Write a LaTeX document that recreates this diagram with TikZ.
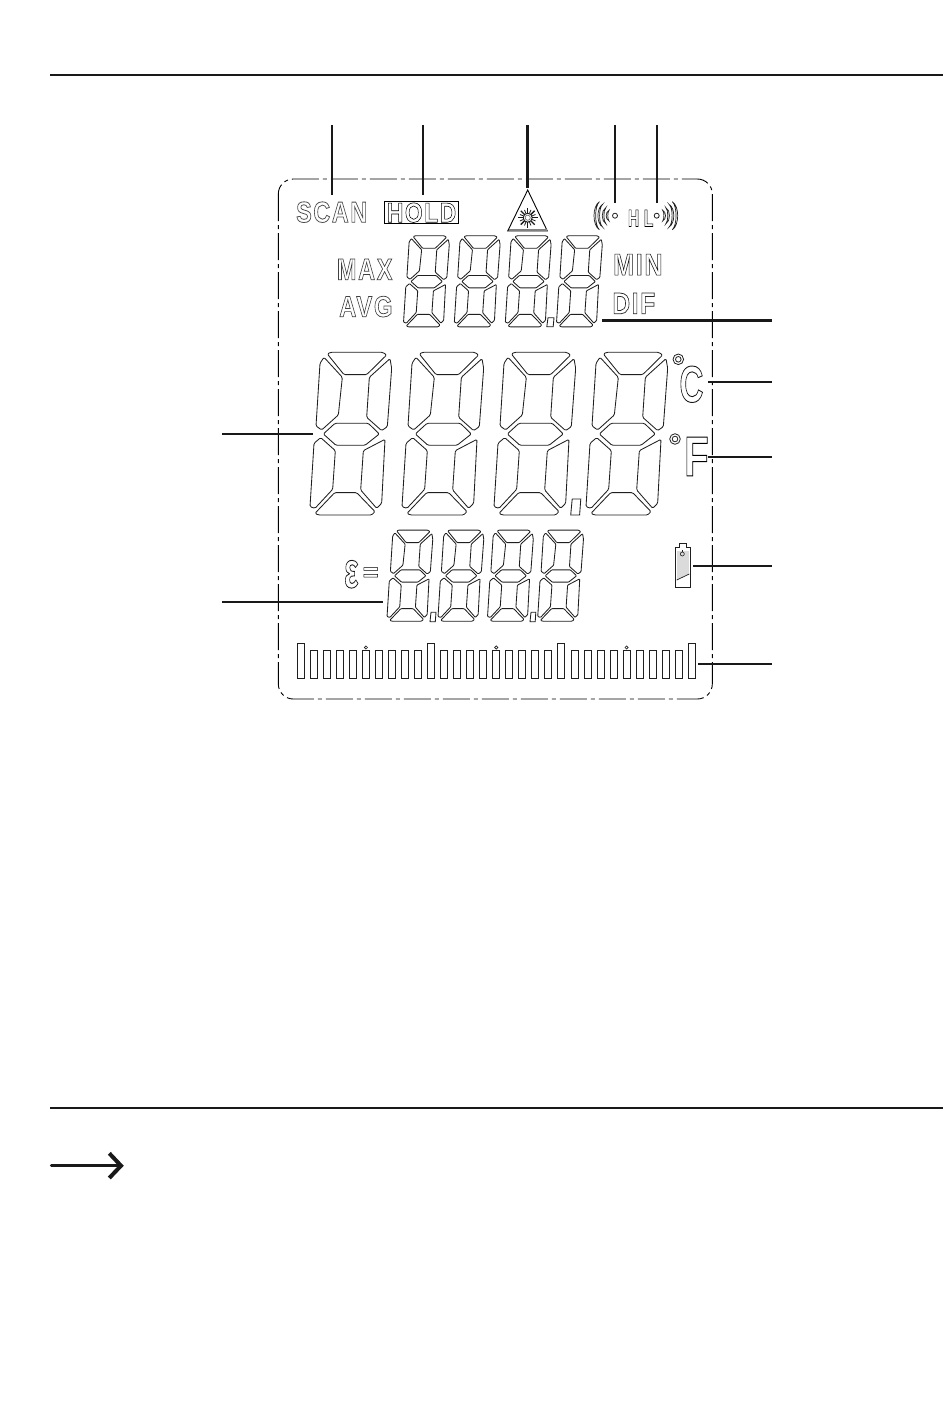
\documentclass[tikz,border=0pt]{standalone}
\usepackage{fontspec}
\usepackage{graphicx}
\setmainfont{Liberation Sans}
\newfontfamily\lblfont[LetterSpace=7]{Liberation Sans}
\newfontfamily\hlfont[LetterSpace=30]{Liberation Sans}
\newfontfamily\greekfont{Liberation Sans}
\definecolor{seg}{gray}{0.12}
\tikzset{
  leader/.style={line width=2.4pt,black!90},
  rule/.style={line width=2.9pt,black!90},
  segline/.style={line width=0.85pt,seg,line join=round},
  lcd/.style={line width=0.85pt,seg},
  lbl/.style={inner sep=0pt,anchor=south west},
}
% name, x-left, y-bottom, width, height, gray stroke, stroke width, content
\newcommand\lab[8]{%
  \node[lbl] (#1) at (#2,#3) {\resizebox{#4pt}{#5pt}{\color[gray]{#6}\special{pdf:code 1 Tr #7 w}\fontsize{20}{20}\selectfont #8\special{pdf:code 0 Tr 1 w}}};}
\newcommand\segdigit[3]{%
  \begin{scope}[shift={(#1,#2)},scale=#3/3,shift={(-153,-283)}]
    \draw[segline,rounded corners=#3*1.3pt]
      (82,42)--(92,37)--(248,37)--(260,45)--(200,104)--(132,104)--cycle
      (72,52)--(127,112)--(115,225)--(65,270)--(48,258)--(60,70)--cycle
      (270,56)--(275,85)--(262,260)--(245,272)--(200,232)--(208,112)--cycle
      (70,282)--(105,250)--(205,250)--(238,282)--(195,316)--(108,316)--cycle
      (62,293)--(106,332)--(98,448)--(45,505)--(30,500)--(42,310)--cycle
      (255,298)--(245,490)--(230,505)--(182,450)--(190,332)--cycle
      (45,520)--(104,458)--(170,458)--(225,515)--(215,525)--(55,525)--cycle;
  \end{scope}}
\newcommand\spk[2]{% centre x, direction
  \foreach \r in {8,12.2,16.8,21}{
    \draw[line width=0.7pt,seg,fill=white]
      ({#1+#2*\r*cos(42)},{215.7-\r*sin(42)}) .. controls ({#1+#2*(\r+1.8)},{215.7-\r*0.45}) and ({#1+#2*(\r+1.8)},{215.7+\r*0.45}) .. ({#1+#2*\r*cos(42)},{215.7+\r*sin(42)})
      .. controls ({#1+#2*(\r-0.4)},{215.7+\r*0.45}) and ({#1+#2*(\r-0.4)},{215.7-\r*0.45}) .. cycle;
  }
  \draw[line width=0.8pt,seg] (#1,215.7) circle (2.5);}
\begin{document}
\begin{tikzpicture}[x=1pt,y=-1pt]
\useasboundingbox (0,0) rectangle (950,1403);
\fill[white] (0,0) rectangle (950,1403);

% rules and arrow
\coordinate (ruleTopL) at (50,75); \coordinate (ruleTopR) at (943,75);
\coordinate (ruleBotL) at (50,1108); \coordinate (ruleBotR) at (943,1108);
\draw[rule] (ruleTopL)--(ruleTopR);
\draw[rule] (ruleBotL)--(ruleBotR);
\coordinate (arrL) at (51.5,1165.7); \coordinate (arrT) at (121,1165.7);
\draw[line width=3.3pt,black!90,line cap=round] (arrL)--(arrT);
\draw[line width=4pt,black!90,line join=miter] (109.3,1153.3)--(arrT)--(109.3,1178);

% frame
\draw[line width=0.9pt,black,rounded corners=15pt,dash pattern=on 27pt off 4pt on 4pt off 4pt]
  (278.3,179) rectangle (712.3,699);

% digits
\foreach \x in {351,443,535,627} {\segdigit{\x}{434.3}{1}}
\foreach \x in {426.5,477.3,528.3,579.5} {\segdigit{\x}{281.7}{0.56}}
\foreach \x in {410,461,510.5,560.7} {\segdigit{\x}{576}{0.56}}
% decimal points
\draw[lcd] (572.2,499)--(580.8,499)--(579.6,515)--(570.7,515)--cycle;
\draw[lcd] (548,317.7)--(554,317.7)--(553.2,326.7)--(546.8,326.7)--cycle;
\draw[lcd] (431,612.3)--(436,612.3)--(435.3,621.7)--(430,621.7)--cycle;
\draw[lcd] (531,612.3)--(535.8,612.3)--(535.2,621.7)--(530,621.7)--cycle;

% labels
\lab{scan}{296}{222.7}{71}{20.4}{0.3}{0.55}{\lblfont\bfseries SCAN}
\lab{hold}{386.7}{222.7}{69.3}{19.4}{0}{0.42}{\lblfont\bfseries HOLD}
\node[lbl,draw=black,line width=0.9pt,minimum width=73.4pt,minimum height=22.6pt] (holdbox) at (384.3,224.3) {};
\lab{max}{336.7}{280}{55.6}{20.7}{0.25}{0.5}{\lblfont\bfseries MAX}
\lab{avg}{339}{317.3}{53.3}{20.6}{0.25}{0.5}{\lblfont\bfseries AVG}
\lab{min}{613}{275.3}{49.3}{21}{0.1}{0.45}{\lblfont\bfseries MIN}
\lab{dif}{612.3}{314}{42.7}{20.7}{0.15}{0.5}{\lblfont\bfseries DIF}
\lab{hl}{627.7}{226.7}{25.5}{16.7}{0}{0.45}{\hlfont\bfseries HL}
\lab{cel}{679.3}{402.7}{24}{36}{0.1}{0.36}{\bfseries C}
\lab{fah}{684}{476}{24.5}{38.7}{0}{0.34}{\bfseries F}
\lab{eps}{344}{588.3}{14.3}{27.3}{0.1}{0.36}{\greekfont\bfseries ε}
\lab{eq}{362.5}{581}{16}{13.2}{0}{0.42}{\bfseries =}

% degree rings
\foreach \cx/\cy in {678.3/359.3,675/439}{
  \draw[line width=0.8pt,seg] (\cx,\cy) circle (5.3);
  \draw[line width=0.8pt,seg] (\cx,\cy) circle (2.8);
}

% laser warning triangle
\draw[line width=0.9pt,black,line join=miter] (527.7,190)--(547.3,231)--(507.7,231)--cycle;
\draw[line width=1.8pt,black!50] (508.5,230.3)--(546.5,230.3);
\foreach \a in {0,45,...,315}{
  \draw[line width=1.4pt,black!90] (527.7,217.7)++(\a:4.6)--++(\a:5.2);
}
\foreach \a in {22.5,67.5,...,337.5}{
  \draw[line width=0.8pt,black!90] (527.7,217.7)++(\a:4.6)--++(\a:3.8);
}
\fill[white] (527.7,217.7) circle (4.2);
\draw[line width=0.9pt,black!90] (527.7,217.7) circle (4.5);
\draw[line width=0.6pt,black!60] (527.7,217.7) circle (2.6);

% speakers
\spk{615}{-1}
\spk{656.7}{1}

% battery
\fill[black!14] (677,551)--(688.8,551)--(688.8,574)--(677,580)--cycle;
\draw[lcd,line join=miter] (675.3,587.3)--(675.3,547.3)--(679.3,547.3)--(679.3,543.3)--(686,543.3)--(686,547.3)--(690,547.3)--(690,587.3)--cycle;
\draw[line width=0.7pt,seg] (676.7,580)--(689.3,574);
\draw[line width=0.6pt,seg] (682.3,554) circle (2);
\draw[line width=0.6pt,seg] (682.3,549.5)--(682.3,552);

% bargraph
\foreach \i in {0,...,30}{
  \pgfmathsetmacro\bx{297.3+13.03*\i}
  \pgfmathsetmacro\tp{(mod(\i,10)==0)?643.3:650}
  \draw[line width=0.85pt,seg] (\bx,\tp) rectangle (\bx+7,678.7);
}
\foreach \i in {5,15,25}{
  \pgfmathsetmacro\bx{300.8+13.03*\i}
  \draw[line width=0.6pt,seg] (\bx,647.5) circle (1.6);
}

% leaders
\coordinate (t1) at (332,125); \coordinate (t1e) at (332,195);
\coordinate (t2) at (423,125); \coordinate (t2e) at (423,195);
\coordinate (t3) at (527.5,125); \coordinate (t3e) at (527.5,187.5);
\coordinate (t4) at (615,125); \coordinate (t4e) at (615,203.3);
\coordinate (t5) at (656.7,125); \coordinate (t5e) at (656.7,203.3);
\draw[leader] (t1)--(t1e); \draw[leader] (t2)--(t2e); \draw[leader] (t3)--(t3e);
\draw[leader] (t4)--(t4e); \draw[leader] (t5)--(t5e);
\coordinate (r1) at (772,320.5); \coordinate (r1e) at (602,320.5);
\coordinate (r2) at (772,382); \coordinate (r2e) at (708,382);
\coordinate (r3) at (772,456.7); \coordinate (r3e) at (708,456.7);
\coordinate (r4) at (772,565.7); \coordinate (r4e) at (692.7,565.7);
\coordinate (r5) at (772,663.7); \coordinate (r5e) at (697.7,663.7);
\draw[leader] (r1)--(r1e); \draw[leader] (r2)--(r2e); \draw[leader] (r3)--(r3e);
\draw[leader] (r4)--(r4e); \draw[leader] (r5)--(r5e);
\coordinate (l1) at (222,434); \coordinate (l1e) at (313,434);
\coordinate (l2) at (222,601.7); \coordinate (l2e) at (382.7,601.7);
\draw[leader] (l1)--(l1e); \draw[leader] (l2)--(l2e);
\end{tikzpicture}
\end{document}
